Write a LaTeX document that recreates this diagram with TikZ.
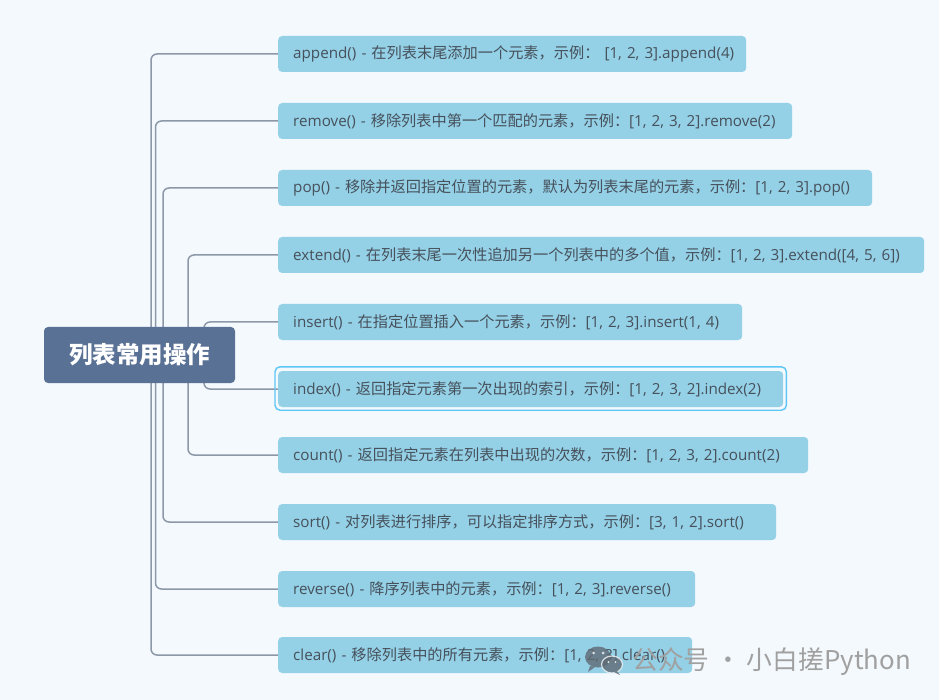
\documentclass[tikz,border=0pt]{standalone}
\usepackage{fontspec}
\setmainfont{Open Sans}
\newfontfamily\zh{Noto Sans CJK SC}
\newcommand\cn[1]{{\zh #1}}
\usetikzlibrary{calc}
\definecolor{bg}{HTML}{F4F9FD}
\definecolor{nodefill}{HTML}{94D0E6}
\definecolor{nodetext}{HTML}{46515B}
\definecolor{conncol}{HTML}{8C97A8}
\definecolor{centerfill}{HTML}{5A7196}
\definecolor{selcol}{HTML}{5CC7F6}
\definecolor{wmtext}{HTML}{A0A0A0}
\definecolor{wmicon}{HTML}{5F6A73}
\pgfdeclarelayer{bottom}
\pgfdeclarelayer{background}
\pgfsetlayers{bottom,background,main}
\tikzset{
  centerbox/.style={fill=centerfill, rounded corners=4pt, minimum width=191pt, minimum height=56pt,
    inner sep=0pt, text=white, font=\zh\bfseries\fontsize{23.5pt}{27pt}\selectfont},
  childbox/.style={anchor=west, fill=nodefill, rounded corners=4pt, inner xsep=15pt, inner ysep=0pt,
    minimum height=36pt, text=nodetext, align=left, font=\fontsize{15.2pt}{18pt}\selectfont},
  conn/.style={draw=conncol, line width=1.5pt, rounded corners=6pt},
  selbox/.style={draw=selcol, line width=1.4pt, rounded corners=5pt},
  wm/.style={anchor=west, text=wmtext, inner sep=0pt, font=\zh\fontsize{25.8pt}{29pt}\selectfont}
}
\begin{document}
\begin{tikzpicture}[x=1pt,y=-1pt]
\begin{pgfonlayer}{bottom}
\fill[bg] (0,0) rectangle (939,700);
\end{pgfonlayer}
\useasboundingbox (0,0) rectangle (939,700);

\node[centerbox] (c) at (139.5,355) {列表常用操作};

\node[childbox, text width=438pt] (n1) at (278,54) {\mbox{append() - \cn{在列表末尾添加一个元素，示例：} [1, 2, 3].append(4)}};
\node[childbox, text width=484pt] (n2) at (278,121) {\mbox{remove() - \cn{移除列表中第一个匹配的元素，示例：}[1, 2, 3, 2].remove(2)}};
\node[childbox, text width=564pt] (n3) at (278,188) {\mbox{pop() - \cn{移除并返回指定位置的元素，默认为列表末尾的元素，示例：}[1, 2, 3].pop()}};
\node[childbox, text width=616pt] (n4) at (278,255) {\mbox{extend() - \cn{在列表末尾一次性追加另一个列表中的多个值，示例：}[1, 2, 3].extend([4, 5, 6])}};
\node[childbox, text width=434pt] (n5) at (278,322) {\mbox{insert() - \cn{在指定位置插入一个元素，示例：}[1, 2, 3].insert(1, 4)}};
\node[childbox, text width=475pt] (n6) at (278,389) {\mbox{index() - \cn{返回指定元素第一次出现的索引，示例：}[1, 2, 3, 2].index(2)}};
\node[childbox, text width=500pt] (n7) at (278,455) {\mbox{count() - \cn{返回指定元素在列表中出现的次数，示例：}[1, 2, 3, 2].count(2)}};
\node[childbox, text width=468pt] (n8) at (278,522) {\mbox{sort() - \cn{对列表进行排序，可以指定排序方式，示例：}[3, 1, 2].sort()}};
\node[childbox, text width=387pt] (n9) at (278,589) {\mbox{reverse() - \cn{降序列表中的元素，示例：}[1, 2, 3].reverse()}};
\node[childbox, text width=384pt] (n10) at (278,655) {\mbox{clear() - \cn{移除列表中的所有元素，示例：}[1, 2, 3].clear()}};

\draw[selbox] ([xshift=-3pt,yshift=-3pt]n6.south west) rectangle ([xshift=3pt,yshift=4pt]n6.north east);

\begin{pgfonlayer}{background}
\draw[conn] ([xshift=11.5pt]c.center) |- (n1.west);
\draw[conn] ([xshift=16pt]c.center) |- (n2.west);
\draw[conn] ([xshift=23.5pt]c.center) |- (n3.west);
\draw[conn] ([xshift=48.5pt]c.center) |- (n4.west);
\draw[conn] ([xshift=64.5pt]c.center) |- (n5.west);
\draw[conn] ([xshift=64.5pt]c.center) |- (n6.west);
\draw[conn] ([xshift=48.5pt]c.center) |- (n7.west);
\draw[conn] ([xshift=23.5pt]c.center) |- (n8.west);
\draw[conn] ([xshift=16pt]c.center) |- (n9.west);
\draw[conn] ([xshift=11.5pt]c.center) |- (n10.west);
\end{pgfonlayer}

% watermark
\begin{scope}[opacity=0.8]
\fill[wmicon] (598,657) ellipse (13pt and 10.5pt);
\fill[wmicon] (590,666) -- (588,672) -- (595,667) -- cycle;
\filldraw[fill=wmicon, draw=bg, line width=1.2pt] (612,664.5) ellipse (10.5pt and 8.5pt);
\fill[wmicon] (617,671) -- (620,675) -- (614,672) -- cycle;
\fill[bg] (593.5,653) circle (1.5pt) (603,653) circle (1.5pt) (608.5,662) circle (1.2pt) (615.5,662) circle (1.2pt);
\end{scope}
\node[wm] (wm) at (632,662) {公众号 · 小白搓Python};
\end{tikzpicture}
\end{document}
